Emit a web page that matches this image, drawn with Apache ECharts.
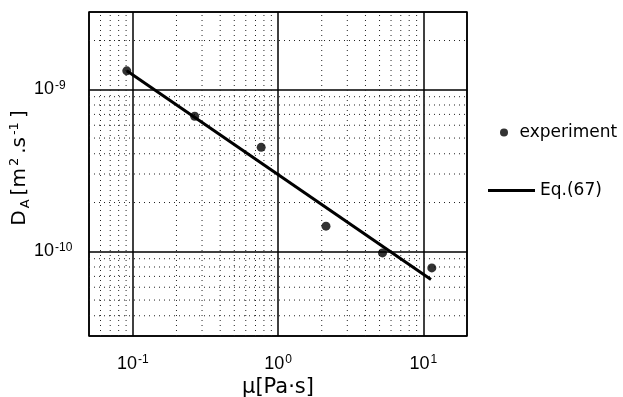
<!DOCTYPE html>
<html>
<head>
<meta charset="utf-8">
<script src="https://cdn.jsdelivr.net/npm/echarts@6/dist/echarts.min.js"></script>
<style>
html,body{margin:0;padding:0;background:#fff;}
#chart{width:623px;height:397px;}
</style>
</head>
<body>
<div id="chart"></div>
<script>
// ---- data ----
const muExperiment = [0.091, 0.267, 0.766, 2.14, 5.24, 11.45];
const dExperiment  = [1.30e-9, 6.82e-10, 4.38e-10, 1.43e-10, 9.77e-11, 7.9e-11];
const muEq67 = [0.091, 11.3];
const dEq67  = [1.30e-9, 6.7e-11];
const xRange = [0.05, 20];
const yRange = [3e-11, 3e-9];
const xDecades = [0.01, 0.1, 1, 10];
const yDecades = [1e-11, 1e-10, 1e-9];
const legendNames = ['experiment', 'Eq.(67)'];

// minor grid values (2..9 within each decade, strictly inside the range)
function minorValues(decades, range) {
  const out = [];
  decades.forEach(d => {
    for (let k = 2; k <= 9; k++) {
      const v = k * d;
      if (v > range[0] * 1.0001 && v < range[1] * 0.9999) out.push(v);
    }
  });
  return out;
}
const xMinor = minorValues(xDecades, xRange);
const yMinor = minorValues(yDecades, yRange);

// polylines (broken by '-') for the dotted minor grid, drawn through the axes
const vMinorData = [];
xMinor.forEach(v => { vMinorData.push([v, yRange[0]], [v, yRange[1]], ['-', '-']); });
const hMinorData = [];
yMinor.forEach(v => { hMinorData.push([xRange[0], v], [xRange[1], v], ['-', '-']); });

function powLabel(value) {
  const e = Math.log10(value);
  if (Math.abs(e - Math.round(e)) > 1e-6) return '';
  return '{b|10}{s|' + Math.round(e) + '}';
}
const tickRich = {
  b: {fontFamily: 'Liberation Sans', fontSize: 18, color: '#000', lineHeight: 20},
  s: {fontFamily: 'Liberation Sans', fontSize: 12, color: '#000', verticalAlign: 'top', padding: [0, 0, 0, 1]}
};
const minorStyle = {color: '#222', width: 1, type: [1, 4]};

const chart = echarts.init(document.getElementById('chart'), null, {renderer: 'canvas'});
chart.setOption({
  animation: false,
  backgroundColor: '#fff',
  grid: {left: 89, right: 156, top: 12, bottom: 61, containLabel: false, outerBoundsMode: 'none',
         show: true, borderColor: '#000', borderWidth: 1.5, backgroundColor: 'transparent'},
  xAxis: {
    type: 'log', logBase: 10, min: xRange[0], max: xRange[1],
    axisLine: {show: false}, axisTick: {show: false},
    splitLine: {show: true, lineStyle: {color: '#000', width: 1.5}},
    axisLabel: {formatter: powLabel, rich: tickRich, margin: 18},
    name: 'μ[Pa·s]', nameLocation: 'middle', nameGap: 41, nameMoveOverlap: false,
    nameTextStyle: {fontFamily: 'DejaVu Sans', fontSize: 21, color: '#000'}
  },
  yAxis: {
    type: 'log', logBase: 10, min: yRange[0], max: yRange[1],
    axisLine: {show: false}, axisTick: {show: false},
    splitLine: {show: true, lineStyle: {color: '#000', width: 1.5}},
    axisLabel: {formatter: powLabel, rich: tickRich, margin: 55, align: 'left'},
    name: '{m|D}{sub|A}{m|[m}{sup|2}{m|.s}{sup|-1}{m|]}',
    nameLocation: 'middle', nameRotate: 90, nameGap: 57, nameMoveOverlap: false,
    nameTextStyle: {
      color: '#000',
      padding: [0, 0, 0, 12],
      rich: {
        m: {fontFamily: 'DejaVu Sans', fontSize: 20, color: '#000', lineHeight: 24, padding: [0, 2, 0, 2]},
        sub: {fontFamily: 'DejaVu Sans', fontSize: 13, color: '#000', verticalAlign: 'bottom', padding: [0, 2, 0, 0]},
        sup: {fontFamily: 'DejaVu Sans', fontSize: 13, color: '#000', verticalAlign: 'top', padding: [0, 2, 0, 0]}
      }
    }
  },
  legend: [
    {
      data: [{name: legendNames[0], icon: 'circle'}],
      orient: 'vertical', left: 495, top: 119,
      itemWidth: 15, itemHeight: 8, itemGap: 0,
      textStyle: {fontFamily: 'DejaVu Sans', fontSize: 17, color: '#000', padding: [0, 0, 0, 3]}
    },
    {
      data: [{name: legendNames[1], icon: 'rect'}],
      orient: 'vertical', left: 483, top: 177,
      itemWidth: 47, itemHeight: 3, itemGap: 0,
      textStyle: {fontFamily: 'DejaVu Sans', fontSize: 17, color: '#000', padding: [0, 0, 0, 0]}
    }
  ],
  series: [
    {
      name: 'minorV', type: 'line', data: vMinorData, z: 1, silent: true,
      showSymbol: false, symbol: 'none', connectNulls: false,
      lineStyle: minorStyle, emphasis: {disabled: true}
    },
    {
      name: 'minorH', type: 'line', data: hMinorData, z: 1, silent: true,
      showSymbol: false, symbol: 'none', connectNulls: false,
      lineStyle: minorStyle, emphasis: {disabled: true}
    },
    {
      name: legendNames[1], type: 'line', z: 3,
      data: muEq67.map((m, i) => [m, dEq67[i]]),
      showSymbol: false, symbol: 'none',
      lineStyle: {color: '#000', width: 3},
      itemStyle: {color: '#000'}
    },
    {
      name: legendNames[0], type: 'scatter', z: 4,
      data: muExperiment.map((m, i) => [m, dExperiment[i]]),
      symbol: 'circle', symbolSize: 9,
      itemStyle: {color: '#000'}
    }
  ]
});
</script>
</body>
</html>
